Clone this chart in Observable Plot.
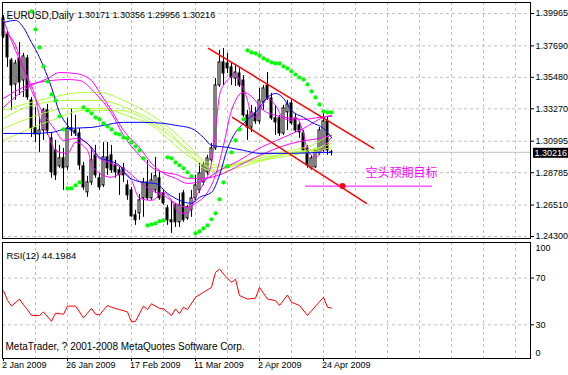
<!DOCTYPE html>
<html><head><meta charset="utf-8">
<script src="https://cdn.jsdelivr.net/npm/d3@7"></script>
<script src="https://cdn.jsdelivr.net/npm/@observablehq/plot@0.6"></script>
<style>
html,body{margin:0;padding:0;background:#fff;}
#chart{width:568px;height:375px;overflow:hidden;}
#chart svg{display:block;}
</style></head><body><div id="chart"></div>
<script>
// ---- data (bar index = position in arrays; 2 Jan 2009 = bar 0) ----
const openP = [1.3962,1.3849,1.3667,1.3498,1.3681,1.3526,1.3681,1.3386,1.3196,1.3147,1.3175,1.3316,1.3119,1.3035,1.2923,1.2979,1.2916,1.3189,1.3175,1.3154,1.2923,1.2740,1.2810,1.3000,1.2839,1.2789,1.2986,1.3000,1.2930,1.2895,1.2909,1.2789,1.2754,1.2579,1.2593,1.2698,1.2810,1.2698,1.2754,1.2839,1.2733,1.2628,1.2544,1.2649,1.2530,1.2733,1.2558,1.2614,1.2698,1.2754,1.2810,1.2881,1.2965,1.3049,1.3491,1.3653,1.3646,1.3618,1.3540,1.3575,1.3526,1.3281,1.3196,1.3295,1.3239,1.3372,1.3491,1.3400,1.3260,1.3260,1.3154,1.3302,1.3365,1.3260,1.3211,1.3154,1.3049,1.2909,1.2916,1.3014,1.3035,1.3239,1.30171];
const highP = [1.3983,1.3870,1.3681,1.3667,1.3793,1.3716,1.3702,1.3407,1.3337,1.3267,1.3330,1.3358,1.3161,1.3105,1.3070,1.3049,1.3260,1.3330,1.3281,1.3189,1.2951,1.2853,1.3056,1.3070,1.2874,1.3091,1.3091,1.3070,1.2965,1.2916,1.2944,1.2824,1.2775,1.2614,1.2726,1.2839,1.2965,1.2874,1.2986,1.2881,1.2754,1.2649,1.2684,1.2663,1.2733,1.2754,1.2649,1.2754,1.2860,1.2944,1.2951,1.3000,1.3084,1.3540,1.3737,1.3751,1.3716,1.3646,1.3632,1.3611,1.3561,1.3316,1.3351,1.3337,1.3470,1.3491,1.3582,1.3435,1.3351,1.3281,1.3351,1.3386,1.3386,1.3295,1.3232,1.3175,1.3070,1.3000,1.3049,1.3196,1.3295,1.3267,1.30356];
const lowP = [1.3821,1.3618,1.3316,1.3386,1.3421,1.3407,1.3386,1.3126,1.3091,1.3021,1.3105,1.3140,1.2839,1.2824,1.2909,1.2754,1.2895,1.3133,1.3133,1.2895,1.2754,1.2705,1.2789,1.2839,1.2754,1.2775,1.2860,1.2874,1.2839,1.2719,1.2810,1.2684,1.2565,1.2508,1.2544,1.2565,1.2684,1.2684,1.2733,1.2684,1.2649,1.2508,1.2452,1.2494,1.2494,1.2530,1.2544,1.2565,1.2684,1.2733,1.2789,1.2860,1.2951,1.3035,1.3477,1.3491,1.3575,1.3491,1.3484,1.3477,1.3267,1.3105,1.3161,1.3218,1.3218,1.3316,1.3386,1.3246,1.3140,1.3133,1.3140,1.3175,1.3211,1.3161,1.3119,1.3021,1.2909,1.2895,1.2909,1.3000,1.3021,1.3000,1.29956];
const closeP = [1.3835,1.3688,1.3491,1.3646,1.3512,1.3695,1.3407,1.3189,1.3147,1.3175,1.3316,1.3175,1.2881,1.2860,1.2979,1.2909,1.3189,1.3175,1.3154,1.2930,1.2775,1.2810,1.2965,1.2860,1.2775,1.2986,1.2909,1.2895,1.2881,1.2860,1.2860,1.2719,1.2572,1.2544,1.2684,1.2810,1.2698,1.2824,1.2853,1.2698,1.2663,1.2544,1.2530,1.2530,1.2649,1.2544,1.2635,1.2698,1.2789,1.2874,1.2930,1.2979,1.3049,1.3491,1.3653,1.3575,1.3611,1.3547,1.3582,1.3491,1.3281,1.3196,1.3302,1.3239,1.3386,1.3470,1.3400,1.3260,1.3232,1.3154,1.3330,1.3358,1.3225,1.3175,1.3161,1.3035,1.2930,1.2979,1.3035,1.3175,1.3239,1.3035,1.30216];

// Parabolic SAR (bars 0-6 have no visible dot)
const sarVal = [null,null,null,null,null,null,null,1.4011,1.3884,1.3758,1.3625,1.3519,1.3428,1.3386,1.3274,1.3182,1.2768,1.2768,1.2789,1.2810,1.3337,1.3316,1.3295,1.3267,1.3253,1.3225,1.3203,1.3182,1.3154,1.3147,1.3126,1.3119,1.3091,1.3063,1.3035,1.2979,1.2508,1.2515,1.2522,1.2537,1.2544,1.2986,1.2979,1.2951,1.2930,1.2909,1.2881,1.2853,1.2452,1.2466,1.2487,1.2508,1.2551,1.2593,1.2691,1.2810,1.2923,1.3021,1.3105,1.3182,1.3253,1.3737,1.3723,1.3716,1.3702,1.3681,1.3667,1.3653,1.3646,1.3646,1.3625,1.3611,1.3590,1.3568,1.3547,1.3533,1.3498,1.3449,1.3407,1.3358,1.3309,1.3302,1.3302];

// moving averages (read at sample bars)
const blueFastIdx = [0,3,5,7,8,10,12,14,16,19,22,24,26,29,31,35,38,41,44,47,49,52,54,56,58,60,63,66,68,70,72,75,77,80,82];
const blueFastVal = [1.3933,1.3948,1.3898,1.3793,1.3744,1.3624,1.3477,1.3302,1.3211,1.3126,1.3056,1.2986,1.2965,1.2930,1.2853,1.2810,1.2803,1.2733,1.2684,1.2663,1.2705,1.2740,1.2860,1.3049,1.3161,1.3225,1.3302,1.3407,1.3435,1.3400,1.3316,1.3267,1.3232,1.3189,1.3126];
const blueSlowIdx = [0,7,12,16,22,25,30,35,40,43,47,50,52,56,60,64,72,80,82];
const blueSlowVal = [1.3154,1.3154,1.3161,1.3189,1.3196,1.3211,1.3232,1.3232,1.3225,1.3211,1.3189,1.3126,1.3070,1.3056,1.3035,1.3014,1.3014,1.3021,1.3021];
const magFastIdx = [0,3,6,8,9,11,13,16,18,21,22,24,27,30,32,34,37,40,42,44,46,48,50,52,53,54,55,57,58,59,61,62,63,65,66,68,70,72,73,75,76,78,80,82];
const magFastVal = [1.3948,1.3737,1.3547,1.3407,1.3267,1.3154,1.3035,1.3014,1.3091,1.3035,1.2944,1.2874,1.2846,1.2881,1.2824,1.2698,1.2684,1.2740,1.2684,1.2593,1.2593,1.2705,1.2803,1.2944,1.3175,1.3421,1.3491,1.3554,1.3575,1.3526,1.3386,1.3281,1.3267,1.3365,1.3400,1.3351,1.3260,1.3246,1.3267,1.3154,1.3035,1.2986,1.3056,1.3126];
const magMedIdx = [0,3,5,7,10,13,15,18,21,23,27,30,33,37,40,43,46,48,51,53,55,57,60,62,65,68,72,75,79,82];
const magMedVal = [1.3877,1.3772,1.3611,1.3456,1.3295,1.3175,1.3105,1.3119,1.3084,1.3000,1.2944,1.2909,1.2839,1.2754,1.2719,1.2663,1.2635,1.2663,1.2740,1.2860,1.3070,1.3316,1.3442,1.3414,1.3316,1.3281,1.3260,1.3253,1.3267,1.3274];
const magSlow1Idx = [0,4,7,11,14,18,22,24,27,30,34,37,40,43,46,50,54,59,63,70,75,80,82];
const magSlow1Val = [1.3337,1.3435,1.3491,1.3540,1.3582,1.3575,1.3526,1.3442,1.3316,1.3175,1.3056,1.2944,1.2874,1.2839,1.2803,1.2824,1.2895,1.2965,1.3035,1.3126,1.3189,1.3267,1.3281];
const magSlow2Idx = [0,6,12,16,19,23,27,30,34,37,40,43,46,50,55,59,63,72,80,82];
const magSlow2Val = [1.3400,1.3491,1.3526,1.3533,1.3526,1.3435,1.3295,1.3140,1.3000,1.2916,1.2881,1.2867,1.2839,1.2839,1.2874,1.2930,1.2986,1.3084,1.3126,1.3140];
const green1Idx = [0,12,20,24,30,35,39,43,47,50,54,59,64,72,79,82];
const green1Val = [1.3316,1.3407,1.3442,1.3442,1.3386,1.3316,1.3246,1.3154,1.3049,1.2965,1.2930,1.2944,1.2965,1.3021,1.3056,1.3105];
const green2Idx = [0,7,16,24,31,37,41,44,48,52,57,63,72,77,82];
const green2Val = [1.3260,1.3351,1.3386,1.3386,1.3330,1.3246,1.3175,1.3091,1.3000,1.2916,1.2930,1.2986,1.3035,1.3070,1.3154];
const green3Idx = [0,7,16,24,32,37,41,45,49,53,58,64,72,79,82];
const green3Val = [1.3189,1.3267,1.3330,1.3330,1.3267,1.3211,1.3119,1.3021,1.2951,1.2895,1.2930,1.2979,1.3014,1.3049,1.3084];
const green4Idx = [0,12,20,29,37,43,47,50,54,59,65,72,79,82];
const green4Val = [1.3105,1.3246,1.3316,1.3316,1.3225,1.3105,1.3000,1.2909,1.2881,1.2916,1.2965,1.3000,1.3035,1.3056];

// drawn objects (bar index / price)
const upperTrendIdx = [51.25, 92.5];
const upperTrendVal = [1.3751, 1.3049];
const lowerTrendIdx = [57.25, 90.75];
const lowerTrendVal = [1.3267, 1.2663];
const targetIdx = [75.5, 107.25];
const targetVal = 1.2784;
const targetDotIdx = 84.75;
const targetLabel = "空头预期目标";
const targetLabelIdx = 90.5;
const targetLabelVal = 1.2877;

// RSI(12)
const rsiIdx = [0,1,2,4,5,6,7,9,10,12,13,15,16,18,19,20,22,23,24,26,27,29,31,32,33,35,36,37,39,40,42,43,44,45,46,48,50,52,53,54,55,57,58,59,61,63,64,66,68,69,71,72,74,76,77,80,81,82];
const rsiVal = [59,51,46,52,47,43,38,38,41,33,40,39,46,46,41,36,44,39,38.5,46.5,45,43,41,32.5,33,46,43,48,44,43.6,38,43.6,39.5,45,43,53.5,57.8,62,74.8,77.7,73.4,66.3,69,55,52,52.7,62,52,50.7,46.5,55.5,49.3,46.5,38,42,53.5,45,44.2];
const rsiLevels = [30, 70];

// axes and texts
const priceTicks = [1.39965,1.37690,1.35480,1.33270,1.30995,1.28785,1.26510,1.24300];
const gridIdx = [8,16,24,32,40,48,56,64,72,80,88,96,104,112,120,128];
const dateIdx = [0,16,32,48,64,80];
const dateLabels = ["2 Jan 2009","26 Jan 2009","17 Feb 2009","11 Mar 2009","2 Apr 2009","24 Apr 2009"];
const titleSymbol = "EURUSD,Daily";
const titleQuotes = "1.30171 1.30356 1.29956 1.30216";
const rsiTitle = "RSI(12) 44.1984";
const copyright = "MetaTrader, ? 2001-2008 MetaQuotes Software Corp.";

// ---- build ----
const GRID = "#c0c0c0";
const FONT = "Liberation Sans, Arial, sans-serif";
const bars = openP.map((o, i) => ({i, o, h: highP[i], l: lowP[i], c: closeP[i]}));
const bulls = bars.filter(d => d.c > d.o);
const pairs = (idx, val) => idx.map((i, k) => ({i, v: val[k]}));
const sar = sarVal.map((v, i) => ({i, v})).filter(d => d.v != null);
const bid = closeP[closeP.length - 1];
const xDomain = [-0.25, 131.75];
const maLine = (idx, val, color) => Plot.line(pairs(idx, val), {x: "i", y: "v", stroke: color, strokeWidth: 1, curve: "monotone-x"});

const mainPlot = Plot.plot({
  width: 568, height: 239,
  marginLeft: 2, marginRight: 38, marginTop: 2, marginBottom: 1,
  style: {fontFamily: FONT, fontSize: "9px", background: "white", overflow: "visible"},
  x: {domain: xDomain, axis: null},
  y: {domain: [1.24160, 1.40738], axis: "right", ticks: priceTicks, tickFormat: d => d.toFixed(5), tickSize: 3, tickPadding: 2, label: null},
  marks: [
    Plot.ruleY(priceTicks, {stroke: GRID, strokeDasharray: "3,3"}),
    Plot.ruleX(gridIdx, {stroke: GRID, strokeDasharray: "3,3"}),
    Plot.ruleY([bid], {stroke: "#c0c0c0"}),
    Plot.ruleX(bars, {x: "i", y1: "l", y2: "h", stroke: "black"}),
    Plot.rect(bars, {x1: d => d.i - 0.375, x2: d => d.i + 0.375, y1: "o", y2: "c", fill: "black", insetTop: -0.5, insetBottom: -0.5}),
    Plot.rect(bulls, {x1: d => d.i - 0.375, x2: d => d.i + 0.375, y1: "o", y2: "c", fill: "white", insetLeft: 1, insetRight: 1, insetTop: 0.5, insetBottom: 0.5}),
    maLine(green4Idx, green4Val, "#adff2f"),
    maLine(green3Idx, green3Val, "#adff2f"),
    maLine(green2Idx, green2Val, "#adff2f"),
    maLine(green1Idx, green1Val, "#adff2f"),
    maLine(magSlow2Idx, magSlow2Val, "#ff00ff"),
    maLine(magSlow1Idx, magSlow1Val, "#ff00ff"),
    maLine(magMedIdx, magMedVal, "#ff00ff"),
    maLine(magFastIdx, magFastVal, "#ff00ff"),
    maLine(blueSlowIdx, blueSlowVal, "#0000ff"),
    maLine(blueFastIdx, blueFastVal, "#0000ff"),
    Plot.dot(sar, {x: "i", y: "v", r: 2.1, fill: "#00ff00"}),
    Plot.line(pairs(upperTrendIdx, upperTrendVal), {x: "i", y: "v", stroke: "#ff0000"}),
    Plot.line(pairs(lowerTrendIdx, lowerTrendVal), {x: "i", y: "v", stroke: "#ff0000"}),
    Plot.ruleY([targetVal], {x1: targetIdx[0], x2: targetIdx[1], stroke: "#ff00ff"}),
    Plot.dot([targetVal], {x: () => targetDotIdx, y: d => d, r: 3, fill: "#ff0000"}),
    Plot.text([targetLabel], {x: () => targetLabelIdx, y: () => targetLabelVal, text: d => d, fill: "#ff00ff", fontSize: 12, fontFamily: "Noto Sans CJK SC", textAnchor: "start"}),
    Plot.text([titleSymbol], {frameAnchor: "top-left", text: d => d, dx: 4, dy: 9, textAnchor: "start", fontSize: 10, fill: "black"}),
    Plot.text([titleQuotes], {frameAnchor: "top-left", text: d => d, dx: 75, dy: 9, textAnchor: "start", fontSize: 9, fill: "black"}),
    Plot.frame({stroke: "black"})
  ]
});

// current price box on the price axis
{
  const yb = mainPlot.scale("y").apply(bid);
  const g = d3.select(mainPlot).append("g").attr("text-anchor", "start");
  g.append("rect").attr("x", 533).attr("y", yb - 4).attr("width", 35).attr("height", 10).attr("fill", "black");
  g.append("text").attr("x", 534.5).attr("y", yb + 1).attr("dy", "0.32em").attr("fill", "white")
    .attr("text-anchor", "start").attr("font-family", FONT).attr("font-size", 9).text(bid.toFixed(5));
}

const rsiPlot = Plot.plot({
  width: 568, height: 136,
  marginLeft: 2, marginRight: 38, marginTop: 3, marginBottom: 17,
  style: {fontFamily: FONT, fontSize: "9px", background: "white", overflow: "visible"},
  x: {domain: xDomain, ticks: dateIdx, tickSize: 3, tickFormat: () => "", label: null},
  y: {domain: [0, 100], range: [120.4, 3.4], axis: "right", ticks: rsiLevels, tickSize: 3, tickPadding: 2, label: null},
  marks: [
    Plot.ruleY(rsiLevels, {stroke: GRID, strokeDasharray: "3,3"}),
    Plot.ruleX(gridIdx, {stroke: GRID, strokeDasharray: "3,3"}),
    Plot.line(pairs(rsiIdx, rsiVal), {x: "i", y: "v", stroke: "#ff0000", strokeWidth: 1}),
    Plot.text([rsiTitle], {frameAnchor: "top-left", text: d => d, dx: 4, dy: 10, textAnchor: "start", fontSize: 9.5}),
    Plot.text([copyright], {frameAnchor: "bottom-left", text: d => d, dx: 3, dy: -9, textAnchor: "start", fontSize: 10}),
    Plot.text([100], {y: d => d, text: d => String(d), frameAnchor: "right", dx: 5, dy: 5, textAnchor: "start"}),
    Plot.text([0], {y: d => d, text: d => String(d), frameAnchor: "right", dx: 5, dy: -7, textAnchor: "start"}),
    Plot.text(dateIdx, {x: d => d, text: (d, i) => dateLabels[i], frameAnchor: "bottom", dy: 9, dx: -1.5, textAnchor: "start"}),
    Plot.frame({stroke: "black"})
  ]
});

const root = document.getElementById("chart");
root.appendChild(mainPlot);
root.appendChild(rsiPlot);
</script>
</body></html>
